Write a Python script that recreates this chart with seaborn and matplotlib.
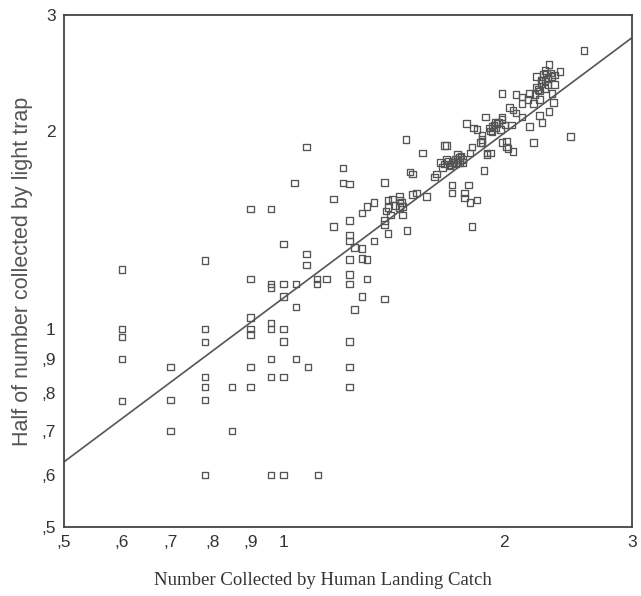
import matplotlib
matplotlib.use("Agg")
import matplotlib.pyplot as plt
import seaborn as sns
import pandas as pd
from matplotlib.ticker import FixedLocator, FixedFormatter, NullLocator

# ---- data ----
human_catch = [
    # low region
    0.60, 0.60, 0.60, 0.60, 0.60,
    0.70, 0.70, 0.70,
    0.78, 0.78, 0.78, 0.78, 0.78, 0.78, 0.78,
    0.85, 0.85,
    0.90, 0.90, 0.90, 0.90, 0.90, 0.90, 0.90,
    0.96, 0.96, 0.96, 0.96, 0.96, 0.96, 0.96, 0.96,
    1.00, 1.00, 1.00, 1.00, 1.00, 1.00, 1.00,
    1.04, 1.04, 1.04, 1.035,
    1.075, 1.075, 1.075, 1.08,
    1.11, 1.11, 1.115, 1.145,
    1.17, 1.17, 1.205, 1.205,
    1.23, 1.23, 1.23, 1.23, 1.23, 1.23, 1.23, 1.23, 1.23, 1.23,
    1.25, 1.25, 1.28, 1.28, 1.28, 1.28,
    1.30, 1.30, 1.30, 1.33, 1.33,
    1.375, 1.375, 1.375, 1.375, 1.39, 1.41, 1.44,
    1.39, 1.38, 1.39, 1.42, 1.40,
    # upper-middle
    1.44, 1.45, 1.44, 1.455, 1.455, 1.475, 1.47,
    1.49, 1.50, 1.50, 1.52, 1.55, 1.57,
    1.61, 1.62, 1.64, 1.65, 1.66, 1.67, 1.67, 1.69, 1.70, 1.70, 1.70,
    1.71, 1.72, 1.73, 1.74, 1.74, 1.76,
    1.77, 1.77, 1.78, 1.79, 1.80, 1.80, 1.81, 1.81, 1.82, 1.84, 1.84,
    1.86, 1.87, 1.87, 1.87, 1.88, 1.89, 1.90, 1.90, 1.92, 1.92, 1.93, 1.93,
    1.95, 1.95, 1.96, 1.98, 1.99, 1.99, 1.99, 1.99,
    2.01, 2.02, 2.02, 2.03, 2.04, 2.05, 2.06, 2.06,
    2.08, 2.08, 2.12, 2.12, 2.12, 2.16, 2.17, 2.17, 2.20, 2.20,
    2.21, 2.22, 2.22, 2.23, 2.24, 2.24, 2.25, 2.26, 2.26, 2.28, 2.28,
    2.29, 2.30, 2.31, 2.31, 2.33, 2.34, 2.35, 2.35, 2.39,
    2.47, 2.58,
    # dense clusters
    1.68, 1.72, 1.75, 1.69, 1.73, 1.76, 1.66,
    2.27, 2.30, 2.25, 2.32, 2.28, 2.24, 2.33,
    1.94, 1.97, 1.91,
]
light_trap_half = [
    1.23, 1.00, 0.972, 0.90, 0.777,
    0.875, 0.78, 0.70,
    1.27, 1.00, 0.955, 0.845, 0.816, 0.78, 0.60,
    0.816, 0.70,
    1.52, 1.19, 1.04, 1.00, 0.98, 0.875, 0.816,
    1.52, 1.17, 1.155, 1.02, 1.00, 0.90, 0.845, 0.60,
    1.345, 1.17, 1.12, 1.00, 0.957, 0.845, 0.60,
    1.17, 1.08, 0.90, 1.665,
    1.89, 1.30, 1.25, 0.875,
    1.19, 1.17, 0.60, 1.19,
    1.575, 1.43, 1.755, 1.665,
    1.66, 1.46, 1.39, 1.36, 1.275, 1.21, 1.17, 0.957, 0.875, 0.816,
    1.33, 1.07, 1.50, 1.325, 1.28, 1.12,
    1.535, 1.275, 1.19, 1.555, 1.36,
    1.67, 1.46, 1.44, 1.11, 1.57, 1.575, 1.57,
    1.395, 1.51, 1.53, 1.54, 1.49,
    1.59, 1.555, 1.53, 1.535, 1.49, 1.41, 1.94,
    1.73, 1.72, 1.60, 1.61, 1.85, 1.59,
    1.70, 1.72, 1.79, 1.76, 1.90, 1.81, 1.90, 1.775, 1.79, 1.655, 1.61,
    1.79, 1.81, 1.84, 1.82, 1.79, 1.81,
    1.61, 1.58, 2.05, 1.655, 1.85, 1.555, 1.89, 1.43, 2.02, 2.01, 1.57,
    1.92, 1.97, 1.92, 1.94, 1.74, 2.10, 1.85, 1.84, 1.85, 2.00, 1.99, 2.03,
    2.06, 2.02, 2.05, 2.01, 2.08, 2.10, 1.92, 2.28,
    2.04, 1.93, 1.89, 1.88, 2.17, 2.04, 2.15, 1.86,
    2.27, 2.13, 2.25, 2.20, 2.10, 2.23, 2.28, 2.03, 2.20, 1.92,
    2.27, 2.33, 2.42, 2.31, 2.23, 2.11, 2.39, 2.39, 2.06, 2.47, 2.32,
    2.45, 2.35, 2.52, 2.14, 2.28, 2.21, 2.43, 2.35, 2.46,
    1.96, 2.65,
    1.80, 1.78, 1.83, 1.77, 1.81, 1.79, 1.78,
    2.44, 2.40, 2.36, 2.45, 2.38, 2.30, 2.42,
    2.04, 2.06, 2.02,
]

# fitted line (at the axis ends)
fit_x = [0.5, 3.0]
fit_y = [0.628, 2.77]

tick_values = [0.5, 0.6, 0.7, 0.8, 0.9, 1, 2, 3]
tick_labels = [",5", ",6", ",7", ",8", ",9", "1", "2", "3"]

x_label = "Number Collected by Human Landing Catch"
y_label = "Half of number collected by light trap"

n = min(len(human_catch), len(light_trap_half))
df = pd.DataFrame({"x": human_catch[:n], "y": light_trap_half[:n]})

sns.set_theme(style="white")
plt.rcParams["font.family"] = ["Liberation Sans", "DejaVu Sans"]

fig = plt.figure(figsize=(6.41, 5.96), dpi=100)
ax = fig.add_axes([0.0998, 0.1158, 0.8862, 0.8592])

gray = "#555555"
sns.scatterplot(data=df, x="x", y="y", marker="s", s=22,
                facecolor="none", edgecolor=gray, linewidth=0.95, ax=ax,
                clip_on=False)
sns.lineplot(x=fit_x, y=fit_y, color=gray, linewidth=1.2, ax=ax)

ax.set_xscale("log")
ax.set_yscale("log")
ax.set_xlim(0.5, 3)
ax.set_ylim(0.5, 3)

for axis in (ax.xaxis, ax.yaxis):
    axis.set_major_locator(FixedLocator(tick_values))
    axis.set_major_formatter(FixedFormatter(tick_labels))
    axis.set_minor_locator(NullLocator())

ax.tick_params(axis="both", which="major", direction="out", length=3,
               width=2.5, color="#333333", labelsize=12.5, labelcolor="#333333",
               pad=3)

for side in ["left", "bottom", "top", "right"]:
    ax.spines[side].set_visible(True)
    ax.spines[side].set_color("#444444")
    ax.spines[side].set_linewidth(1.3)

ax.set_xlabel(x_label, family=["Liberation Serif", "DejaVu Serif"],
              fontsize=13.5, color="#333333")
ax.xaxis.set_label_coords(0.456, -0.088)
ax.set_ylabel(y_label, fontsize=15.5, color="#555555", labelpad=6)

fig.savefig("out.png", dpi=100)
